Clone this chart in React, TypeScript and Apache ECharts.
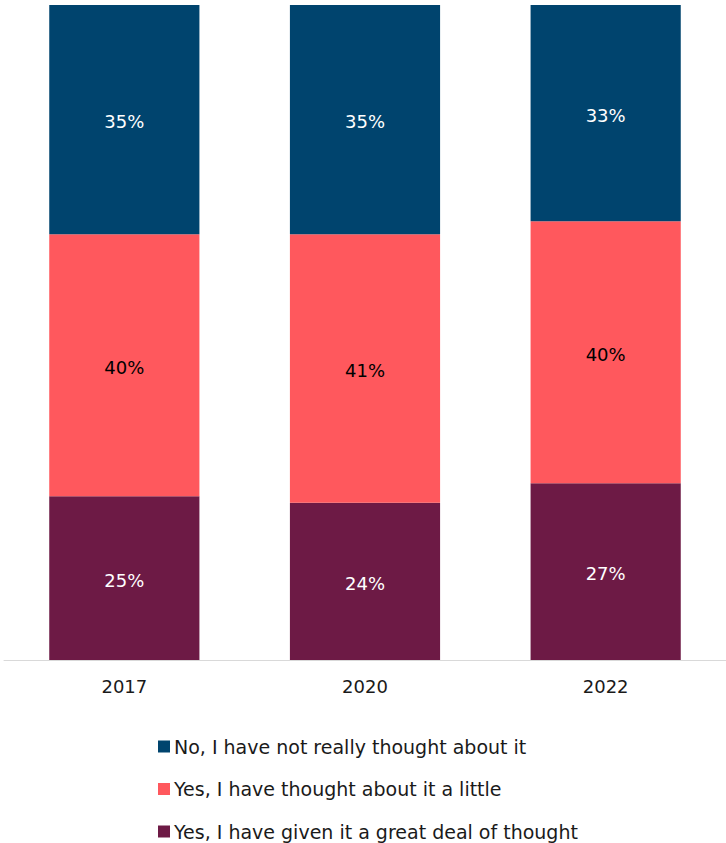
import React, { useEffect, useRef } from "react";
import * as echarts from "echarts";

const categories = ["2017", "2020", "2022"];
const greatDeal = [25, 24, 27];
const little = [40, 41, 40];
const notReally = [35, 35, 33];
const seriesNames = [
  "No, I have not really thought about it",
  "Yes, I have thought about it a little",
  "Yes, I have given it a great deal of thought",
];

const FONT = "'DejaVu Sans', Verdana, sans-serif";

export default function App() {
  const ref = useRef<HTMLDivElement>(null);
  useEffect(() => {
    if (!ref.current) return;
    const chart = echarts.init(ref.current, null, { renderer: "svg" });
    const label = (color: string) => ({
      show: true,
      position: "inside",
      formatter: "{c}%",
      color,
      fontSize: 18,
      fontFamily: FONT,
      offset: [0, 2],
    });
    chart.setOption({
      animation: false,
      textStyle: { fontFamily: FONT },
      grid: { left: 4, right: 0, top: 5, bottom: 183, containLabel: false },
      legend: {
        orient: "vertical",
        left: 158,
        top: 737,
        padding: 0,
        itemWidth: 12,
        itemHeight: 12,
        itemGap: 23.5,
        icon: "rect",
        data: [seriesNames[0], seriesNames[1], seriesNames[2]],
        textStyle: {
          fontSize: 19,
          lineHeight: 19,
          color: "#1a1a1a",
          fontFamily: FONT,
          padding: [0, 0, 0, -1],
        },
      },
      xAxis: {
        type: "category",
        data: categories,
        axisLine: { lineStyle: { color: "#d9d9d9", width: 1 } },
        axisTick: { show: false },
        axisLabel: { color: "#1a1a1a", fontSize: 18, fontFamily: FONT, margin: 17 },
      },
      yAxis: {
        type: "value",
        min: 0,
        max: 100,
        show: false,
        splitLine: { show: false },
      },
      series: [
        {
          name: seriesNames[2],
          type: "bar",
          stack: "total",
          data: greatDeal,
          barWidth: "62.4%",
          itemStyle: { color: "#6D1A45" },
          label: label("#ffffff"),
        },
        {
          name: seriesNames[1],
          type: "bar",
          stack: "total",
          data: little,
          itemStyle: { color: "#FF585D" },
          label: label("#000000"),
        },
        {
          name: seriesNames[0],
          type: "bar",
          stack: "total",
          data: notReally,
          itemStyle: { color: "#00446E" },
          label: label("#ffffff"),
        },
      ],
    });
    return () => chart.dispose();
  }, []);
  return (
    <div
      ref={ref}
      style={{ position: "absolute", left: 0, top: 0, width: 726, height: 843, background: "#fff" }}
    />
  );
}
